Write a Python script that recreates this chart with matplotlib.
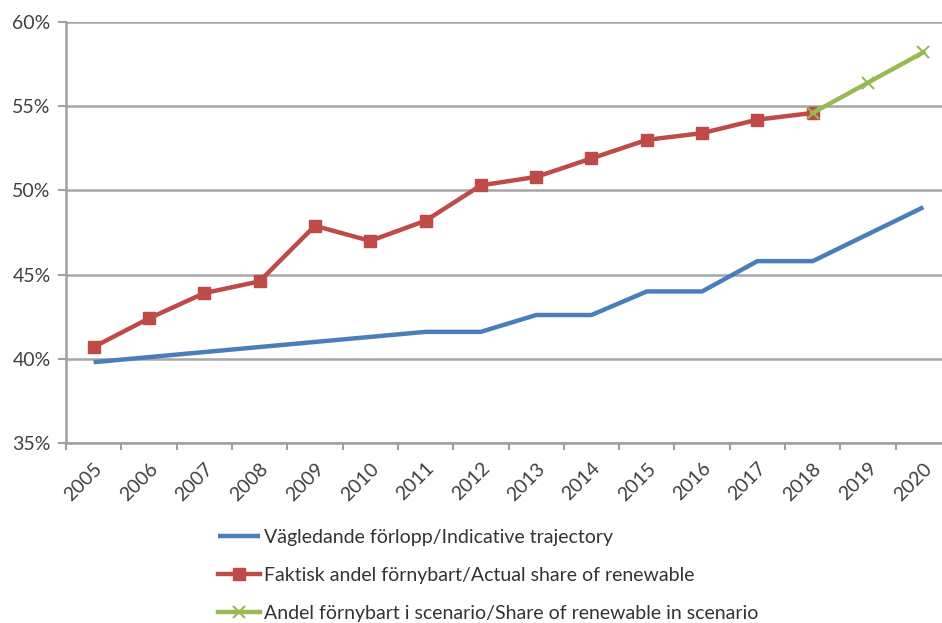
import matplotlib
matplotlib.use("Agg")
import matplotlib.pyplot as plt
from matplotlib.ticker import PercentFormatter

plt.rcParams['font.family'] = ['Lato', 'DejaVu Sans']

years = [str(y) for y in range(2005, 2021)]

# Vägledande förlopp / Indicative trajectory
indicative = [39.8, 40.1, 40.4, 40.7, 41.0, 41.3, 41.6, 41.6,
              42.6, 42.6, 44.0, 44.0, 45.8, 45.8, 47.4, 49.0]
# Faktisk andel förnybart / Actual share (2005-2018)
actual = [40.7, 42.4, 43.9, 44.6, 47.9, 47.0, 48.2, 50.3,
          50.8, 51.9, 53.0, 53.4, 54.2, 54.6]
# Scenario (2018-2020)
scenario_years = ['2018', '2019', '2020']
scenario = [54.6, 56.4, 58.2]

labels = ['Vägledande förlopp/Indicative trajectory',
          'Faktisk andel förnybart/Actual share of renewable',
          'Andel förnybart i scenario/Share of renewable in scenario']

fig = plt.figure(figsize=(9.42, 6.23), dpi=100)
W, H = 942, 623
# plot area runs off the right edge like in the cropped original
ax = fig.add_axes([66 / W, 1 - 443 / H, (951 - 66) / W, (443 - 22) / H])

xi = list(range(len(years)))
xs = [years.index(y) for y in scenario_years]

l1, = ax.plot(xi, indicative, color='#4a7ebb', lw=3.2, solid_capstyle='butt')
l2, = ax.plot(xi[:len(actual)], actual, color='#be4b48', lw=3.2,
              marker='s', ms=8.5)
l3, = ax.plot(xs, scenario, color='#98b954', lw=3.2, marker='x', ms=8,
              mew=1.5)

ax.set_xlim(-0.5, len(years) - 0.5)
ax.set_ylim(35, 60)
ax.set_yticks([35, 40, 45, 50, 55, 60])
ax.yaxis.set_major_formatter(PercentFormatter(decimals=0))
ax.set_xticks(xi)
ax.set_xticklabels(years, rotation=45, ha='right', rotation_mode='anchor')
ax.set_xticks([i - 0.5 for i in range(len(years) + 1)], minor=True)
ax.tick_params(axis='x', which='major', length=0, pad=12)
ax.tick_params(axis='x', which='minor', length=5, color='#a0a0a0', width=1.5)
ax.tick_params(axis='y', length=6, color='#a0a0a0', width=1.5, pad=5)
ax.tick_params(labelsize=14, labelcolor='#404040')

ax.grid(axis='y', color='#a6a6a6', lw=1.8)
ax.set_axisbelow(True)
for side in ['top', 'right']:
    ax.spines[side].set_visible(False)
for side in ['left', 'bottom']:
    ax.spines[side].set_color('#a0a0a0')
    ax.spines[side].set_linewidth(1.8)

fig.legend([l1, l2, l3], labels, loc='upper left',
           bbox_to_anchor=(200 / W, 1 - 511 / H), frameon=False,
           fontsize=14, handlelength=2.2, handletextpad=0.2,
           labelspacing=1.08, labelcolor='#333333')

fig.savefig('out.png', dpi=100)
